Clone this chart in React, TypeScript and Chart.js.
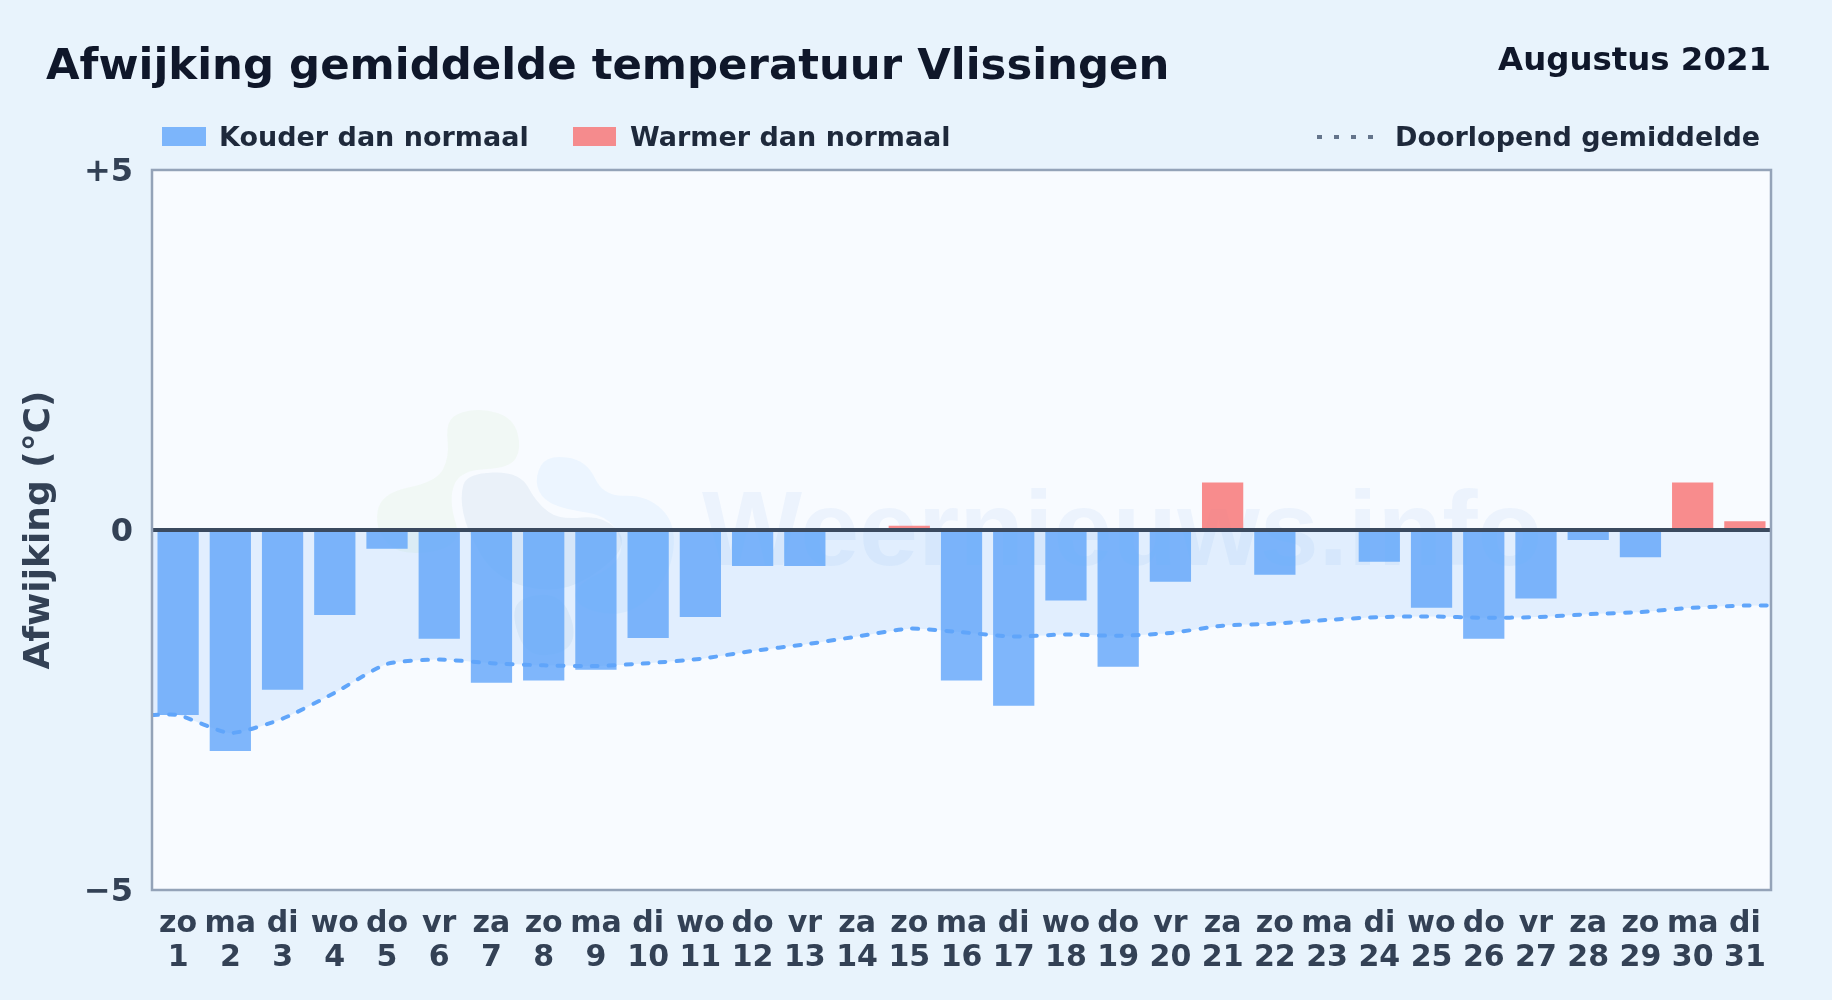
import React, { useEffect, useRef } from "react";
import { Chart, registerables } from "chart.js";

Chart.register(...registerables);

const titleText = "Afwijking gemiddelde temperatuur Vlissingen";
const periodText = "Augustus 2021";
const yAxisTitle = "Afwijking (°C)";
const watermarkText = "Weernieuws.info";
const legendCold = "Kouder dan normaal";
const legendWarm = "Warmer dan normaal";
const legendAverage = "Doorlopend gemiddelde";

const weekdays = ["zo","ma","di","wo","do","vr","za","zo","ma","di","wo","do","vr","za","zo","ma","di","wo","do","vr","za","zo","ma","di","wo","do","vr","za","zo","ma","di"];
const days = [1,2,3,4,5,6,7,8,9,10,11,12,13,14,15,16,17,18,19,20,21,22,23,24,25,26,27,28,29,30,31];
const deviation = [-2.57,-3.07,-2.22,-1.18,-0.26,-1.51,-2.12,-2.09,-1.94,-1.5,-1.21,-0.5,-0.5,0,0.06,-2.09,-2.44,-0.98,-1.9,-0.72,0.66,-0.62,0,-0.44,-1.08,-1.51,-0.95,-0.14,-0.38,0.66,0.12];
const averageX = [0.5,1,2,3,4,5,6,7,8,9,10,11,12,13,14,15,16,17,18,19,20,21,22,23,24,25,26,27,28,29,30,31,31.5];
const averageY = [-2.57,-2.57,-2.82,-2.62,-2.26,-1.86,-1.8,-1.85,-1.88,-1.89,-1.85,-1.79,-1.68,-1.59,-1.48,-1.37,-1.42,-1.48,-1.45,-1.47,-1.43,-1.33,-1.3,-1.25,-1.21,-1.2,-1.22,-1.21,-1.17,-1.14,-1.08,-1.05,-1.05];
const yTicks = [-5, 0, 5];

const COLD = "rgba(96,165,250,0.8)";
const WARM = "rgba(248,113,113,0.8)";
const AVG = "#60a5fa";
const FONT = '"DejaVu Sans"';

function blob(ctx: CanvasRenderingContext2D, pts: number[][], color: string) {
  // Smooth closed shape through midpoints; points given in reference pixel coordinates.
  ctx.fillStyle = color;
  ctx.beginPath();
  const n = pts.length;
  ctx.moveTo((pts[n - 1][0] + pts[0][0]) / 2, (pts[n - 1][1] + pts[0][1]) / 2);
  for (let i = 0; i < n; i++) {
    const p = pts[i];
    const q = pts[(i + 1) % n];
    ctx.quadraticCurveTo(p[0], p[1], (p[0] + q[0]) / 2, (p[1] + q[1]) / 2);
  }
  ctx.closePath();
  ctx.fill();
}

const z = (pts: number[][]) => pts.map(([x, y]) => [360 + x / 3, 390 + y / 3]);

const decorations = {
  id: "decorations",
  afterLayout(chart: any) {
    if (chart.titleBlock) chart.titleBlock.left = 46;
  },
  beforeDraw(chart: any) {
    const { ctx, chartArea: a } = chart;
    ctx.save();
    ctx.fillStyle = "#f8fbff";
    ctx.fillRect(a.left, a.top, a.width, a.height);
    ctx.restore();
    // Nudge the y tick labels down to the glyph centring of the reference.
    chart.scales.y.getLabelItems().forEach((item: any) => {
      item.options.translation[1] += 2.5;
    });
  },
  beforeDatasetsDraw(chart: any) {
    const { ctx } = chart;
    ctx.save();
    blob(ctx, z([[258,110],[285,70],[370,55],[460,85],[485,175],[450,235],[300,240],[265,330],[310,470],[120,500],[45,420],[60,310],[230,275],[268,200]]), "rgba(190,225,160,0.1)");
    blob(ctx, z([[300,320],[320,250],[480,245],[530,340],[600,390],[730,375],[810,460],[690,570],[560,610],[400,560],[320,420]]), "rgba(100,140,190,0.09)");
    blob(ctx, z([[525,260],[560,195],[680,210],[730,320],[860,315],[950,400],[930,560],[810,680],[660,660],[635,590],[800,510],[760,380],[600,355],[540,320]]), "rgba(96,180,250,0.08)");
    blob(ctx, z([[455,680],[480,620],[600,610],[650,720],[620,790],[500,800]]), "rgba(100,140,190,0.09)");
    ctx.fillStyle = "rgba(80,140,220,0.07)";
    ctx.font = 'bold 106px "Liberation Sans"';
    ctx.textAlign = "left";
    ctx.textBaseline = "alphabetic";
    ctx.fillText(watermarkText, 702, 565);
    ctx.restore();
  },
  afterDraw(chart: any) {
    const { ctx, chartArea: a } = chart;
    ctx.save();
    ctx.strokeStyle = "#94a3b8";
    ctx.lineWidth = 2.5;
    ctx.strokeRect(a.left, a.top, a.width, a.height);

    ctx.textBaseline = "middle";
    ctx.fillStyle = "#0f172a";
    ctx.font = `bold 32.4px ${FONT}`;
    ctx.textAlign = "right";
    ctx.fillText(periodText, 1771, 62);

    ctx.font = `bold 27px ${FONT}`;
    ctx.textAlign = "left";
    ctx.fillStyle = COLD;
    ctx.fillRect(162, 127, 44, 19);
    ctx.fillStyle = WARM;
    ctx.fillRect(573, 127, 43, 19);
    ctx.fillStyle = "#1e293b";
    ctx.fillText(legendCold, 219, 139);
    ctx.fillText(legendWarm, 630, 139);
    ctx.fillText(legendAverage, 1395, 139);

    ctx.strokeStyle = "#64748b";
    ctx.lineWidth = 4;
    ctx.setLineDash([5, 12]);
    ctx.beginPath();
    ctx.moveTo(1317, 137);
    ctx.lineTo(1375, 137);
    ctx.stroke();
    ctx.restore();
  },
};

export default function App() {
  const ref = useRef<HTMLCanvasElement>(null);
  useEffect(() => {
    const chart = new Chart(ref.current!, {
      type: "bar",
      plugins: [decorations],
      data: {
        datasets: [
          {
            type: "line",
            label: legendAverage,
            order: 0,
            data: averageX.map((x, i) => ({ x, y: averageY[i] })),
            borderColor: AVG,
            borderWidth: 4,
            borderDash: [6, 11],
            borderCapStyle: "round",
            pointRadius: 0,
            tension: 0.2,
            fill: { target: "origin" },
            backgroundColor: "rgba(96,165,250,0.15)",
          },
          {
            type: "bar",
            label: legendCold,
            order: 1,
            data: days.map((x, i) => ({ x, y: deviation[i] })),
            backgroundColor: deviation.map((v) => (v < 0 ? COLD : WARM)),
            categoryPercentage: 0.79,
            barPercentage: 1,
          },
        ],
      } as any,
      options: {
        responsive: false,
        animation: false,
        devicePixelRatio: 1,
        layout: { padding: { left: 0, right: 61, top: 0, bottom: 0 } },
        plugins: {
          legend: { display: false },
          tooltip: { enabled: false },
          title: {
            display: true,
            text: titleText,
            align: "start",
            color: "#0f172a",
            font: { family: FONT, size: 43.4, weight: "bold", lineHeight: 1.2 },
            padding: { top: 41.7, bottom: 76.2 },
          },
        },
        scales: {
          x: {
            type: "linear",
            min: 0.5,
            max: 31.5,
            offset: false,
            border: { display: false },
            grid: { display: false, offset: false },
            afterBuildTicks(scale: any) {
              scale.ticks = days.map((value) => ({ value }));
            },
            afterFit(scale: any) {
              scale.height = 110;
            },
            ticks: {
              autoSkip: false,
              maxRotation: 0,
              minRotation: 0,
              padding: 10,
              color: "#334155",
              font: { family: FONT, size: 30, weight: "bold", lineHeight: "33.3px" },
              callback: (v: any) => [weekdays[v - 1], String(v)],
            },
          },
          y: {
            type: "linear",
            min: yTicks[0],
            max: yTicks[2],
            border: { display: false },
            afterBuildTicks(scale: any) {
              scale.ticks = yTicks.map((value) => ({ value }));
            },
            afterFit(scale: any) {
              scale.width = 152;
            },
            grid: {
              z: 1,
              drawTicks: false,
              lineWidth: 4,
              color: (c: any) => (c.tick && c.tick.value === 0 ? "#3b4a5f" : "rgba(0,0,0,0)"),
            },
            ticks: {
              padding: 19,
              color: "#334155",
              font: { family: FONT, size: 32, weight: "bold" },
              callback: (v: any) => (v > 0 ? "+" + v : v < 0 ? "−" + Math.abs(v) : "0"),
            },
            title: {
              display: true,
              text: yAxisTitle,
              color: "#334155",
              font: { family: FONT, size: 36, weight: "bold", lineHeight: 1.2 },
              padding: { top: 18.4, bottom: 0 },
            },
          },
        },
      },
    } as any);
    return () => chart.destroy();
  }, []);
  return (
    <div style={{ position: "absolute", left: 0, top: 0, width: 1832, height: 1000, background: "#e8f3fc" }}>
      <canvas ref={ref} width={1832} height={1000} style={{ display: "block" }} />
    </div>
  );
}
